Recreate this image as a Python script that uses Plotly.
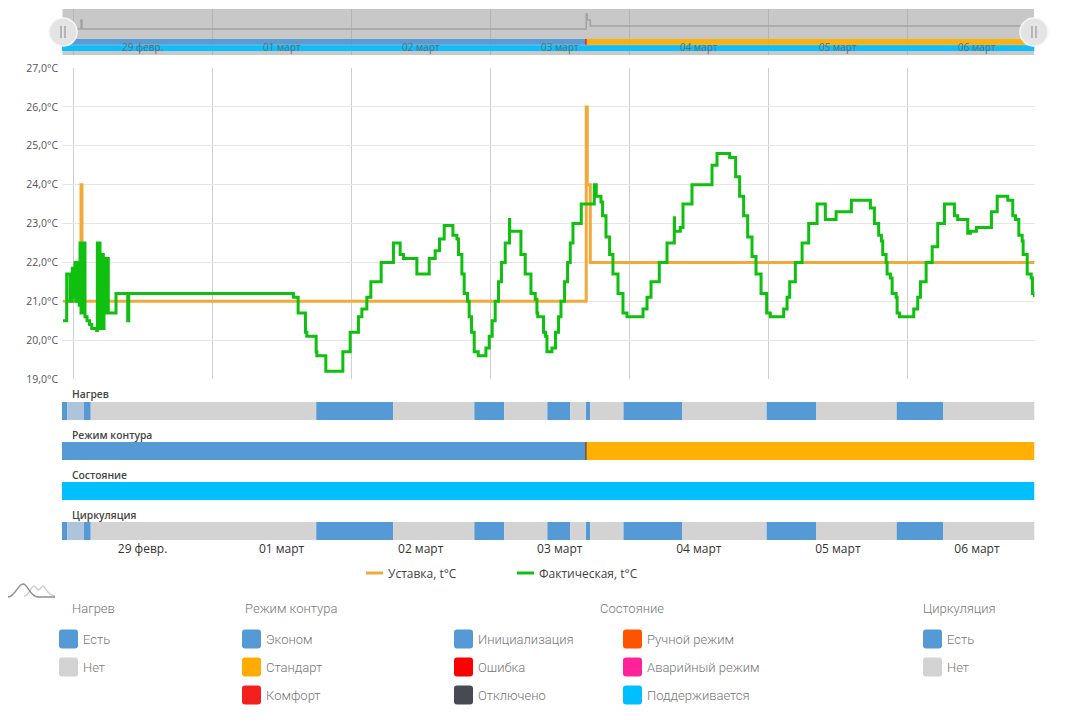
import pandas as pd
import plotly.graph_objects as go

# Timestamps are stored as hours since 29 Feb 00:00
START = pd.Timestamp('2020-02-29')
VIEW_START = -1.90
VIEW_END = 165.93

DAY_HOURS = [0, 24, 48, 72, 96, 120, 144]
DAY_LABELS = ['29 февр.', '01 март', '02 март', '03 март', '04 март', '05 март', '06 март']

setpoint_hours = [-1.73, 1.38, 1.55, 88.57, 88.75, 89.27, 165.93]
setpoint_temp = [21.0, 24.0, 21.0, 26.0, 24.0, 22.0, 22.0]

actual_hours = [
    -1.73, -1.09, -0.52, -0.12, 0.0, 0.35, 0.48, 0.62, 0.76, 0.92, 1.09, 1.21, 1.38, 1.55, 1.73, 1.90, 2.07,
    2.42, 2.85, 3.23, 4.09, 4.20, 4.32, 4.49, 4.66, 4.78, 4.92, 5.06, 5.23, 5.35, 5.53, 5.66, 5.80, 5.94, 6.09,
    7.42, 9.44, 9.62, 38.04, 38.85, 40.11, 40.35, 41.96, 42.08, 43.63, 46.57, 47.83, 49.26, 49.85, 50.71, 51.40,
    53.18, 55.30, 56.46, 57.03, 59.34, 61.47, 62.50, 63.25, 64.06, 65.56, 66.25, 66.53, 67.11, 67.51, 68.08,
    68.37, 68.77, 69.24, 69.93, 71.26, 71.83, 72.34, 72.86, 73.43, 73.95, 74.59, 75.33, 75.36, 77.30, 78.04,
    79.03, 79.77, 80.06, 80.20, 81.20, 81.55, 81.79, 82.65, 83.27, 83.79, 84.21, 84.83, 85.35, 85.81, 86.28,
    87.71, 89.96, 90.30, 91.11, 91.39, 91.98, 92.60, 93.18, 94.05, 94.91, 95.60, 98.37, 99.06, 99.75, 101.18,
    102.51, 103.77, 103.80, 104.80, 105.27, 106.82, 110.28, 111.14, 113.32, 114.35, 115.04, 115.73, 116.43,
    117.18, 117.87, 118.74, 119.71, 120.34, 122.64, 123.23, 123.68, 124.66, 125.82, 126.96, 128.41, 129.84,
    131.69, 134.33, 137.61, 138.30, 139.04, 139.51, 139.74, 140.32, 140.49, 141.06, 141.36, 142.05, 142.22,
    142.62, 145.09, 145.78, 146.25, 147.23, 148.27, 149.23, 150.39, 152.11, 152.68, 154.41, 154.87, 155.91,
    158.50, 159.49, 161.32, 162.18, 162.65, 163.22, 163.80, 163.97, 164.67, 165.36, 165.58, 165.93,
]
actual_temp = [
    20.5, 21.7, 21.0, 21.85, 21.1, 22.0, 21.0, 22.0, 21.0, 22.0, 20.9, 22.5, 20.7, 22.5, 20.7, 22.5, 20.6,
    20.5, 20.4, 20.3, 20.25, 22.5, 20.3, 22.5, 20.3, 22.2, 20.3, 22.2, 20.3, 22.1, 20.7, 22.1, 20.7, 22.1, 20.7,
    21.2, 20.5, 21.2, 21.1, 20.7, 20.2, 20.1, 19.7, 19.6, 19.2, 19.7, 20.2, 20.6, 20.8, 21.1, 21.5,
    22.0, 22.5, 22.2, 22.1, 21.7, 22.1, 22.3, 22.6, 22.95, 22.7, 22.6, 22.2, 21.7, 21.2, 21.0,
    20.6, 20.2, 19.7, 19.6, 19.8, 20.1, 20.5, 21.0, 21.5, 22.0, 22.5, 23.1, 22.8, 22.2, 21.7,
    21.2, 21.05, 20.7, 20.6, 20.2, 20.1, 19.7, 19.8, 20.2, 20.6, 21.0, 21.5, 22.0, 22.5, 23.0,
    23.5, 24.0, 23.7, 23.55, 23.2, 22.65, 22.2, 21.7, 21.2, 20.7, 20.6, 20.8, 21.1, 21.5, 22.0,
    22.5, 23.15, 22.8, 22.9, 23.5, 24.0, 24.5, 24.8, 24.7, 24.2, 23.7, 23.2, 22.65,
    22.15, 21.7, 21.2, 20.7, 20.6, 20.8, 21.1, 21.5, 22.0, 22.5, 23.0, 23.5, 23.1,
    23.3, 23.6, 23.4, 23.0, 22.7, 22.55, 22.2, 22.0, 21.7, 21.6, 21.2, 21.1, 20.7,
    20.6, 20.8, 21.1, 21.5, 22.0, 22.4, 23.0, 23.5, 23.2, 23.1, 22.75, 22.8, 22.9,
    23.3, 23.7, 23.6, 23.2, 23.1, 22.7, 22.55, 22.2, 21.7, 21.6, 21.2, 21.1,
]

# On/off periods, Нагрев and Циркуляция run together
on_starts = [-1.90, 1.90, 41.96, 69.24, 81.84, 88.49, 94.97, 119.66, 142.10]
on_ends = [-1.00, 3.06, 55.25, 74.42, 85.81, 89.27, 105.15, 128.29, 150.20]
off_starts = [3.06, 55.25, 74.42, 85.81, 89.27, 105.15, 128.29, 150.20]
off_ends = [41.96, 69.24, 81.84, 88.49, 94.97, 119.66, 142.10, 165.93]
# very fast switching at the start blurs into one pale span
blur_starts = [-1.00]
blur_ends = [1.90]

strip_names = ['Нагрев', 'Режим контура', 'Состояние', 'Циркуляция']
legend_groups = ['Нагрев', 'Режим контура', 'Состояние', 'Циркуляция']

COL_BLUE = '#5599d5'
COL_GREY = '#d3d3d3'
COL_BLUR = '#adc4da'
COL_ORANGE = '#ffb000'
COL_CYAN = '#00bfff'
COL_SETPOINT = '#f2a93b'
COL_ACTUAL = '#10c010'

PAD = 8
W = 1050
H = 707


def px(x):
    return (x - PAD) / W


def py(y):
    return 1 - (y - PAD) / H


def dates(hours):
    return [START + pd.Timedelta(hours=h) for h in hours]


def span_bar(starts, ends, color, yaxis, xaxis, label, opacity=1):
    return go.Bar(
        x=[(e - s) * 3600000 for s, e in zip(starts, ends)],
        base=dates(starts),
        y=[label] * len(starts),
        orientation='h',
        width=1 if xaxis == 'x' else 0.92,
        marker=dict(color=color, line=dict(width=0)),
        opacity=opacity,
        xaxis=xaxis,
        yaxis=yaxis,
        showlegend=False,
        hoverinfo='skip',
    )


fig = go.Figure()

# Main chart
fig.add_trace(go.Scatter(x=dates(setpoint_hours), y=setpoint_temp, name='Уставка, t°C', mode='lines',
                         line=dict(color=COL_SETPOINT, width=3, shape='hv'), showlegend=False))
fig.add_trace(go.Scatter(x=dates(actual_hours), y=actual_temp, name='Фактическая, t°C', mode='lines',
                         line=dict(color=COL_ACTUAL, width=3, shape='hv'), showlegend=False))

# Timeline strips under the chart
for axis, name in [('y2', strip_names[0]), ('y5', strip_names[3])]:
    fig.add_trace(span_bar(on_starts, on_ends, COL_BLUE, axis, 'x', name))
    fig.add_trace(span_bar(blur_starts, blur_ends, COL_BLUR, axis, 'x', name))
    fig.add_trace(span_bar(off_starts, off_ends, COL_GREY, axis, 'x', name))
fig.add_trace(span_bar([VIEW_START], [88.49], COL_BLUE, 'y3', 'x', strip_names[1]))
fig.add_trace(span_bar([88.49], [88.65], '#7a5a40', 'y3', 'x', strip_names[1]))
fig.add_trace(span_bar([88.65], [VIEW_END], COL_ORANGE, 'y3', 'x', strip_names[1]))
fig.add_trace(span_bar([VIEW_START], [VIEW_END], COL_CYAN, 'y4', 'x', strip_names[2]))

# Overview at the top
fig.add_trace(go.Scatter(x=dates(setpoint_hours), y=setpoint_temp, mode='lines', xaxis='x2', yaxis='y6',
                         line=dict(color='#a2a2a2', width=1.5, shape='hv'), showlegend=False, hoverinfo='skip'))
fig.add_trace(span_bar([VIEW_START], [88.49], COL_BLUE, 'y7', 'x2', strip_names[1], 0.95))
fig.add_trace(span_bar([88.49], [88.65], '#f42020', 'y7', 'x2', strip_names[1], 0.95))
fig.add_trace(span_bar([88.65], [VIEW_END], COL_ORANGE, 'y7', 'x2', strip_names[1], 0.95))
fig.add_trace(span_bar([VIEW_START], [VIEW_END], COL_CYAN, 'y7', 'x2', strip_names[2], 0.95))

x_range = dates([VIEW_START, VIEW_END])
midnights = dates(DAY_HOURS)
noons = dates([h + 12 for h in DAY_HOURS])


def strip_axis(top, bottom):
    return dict(domain=[py(bottom), py(top)], anchor='x', visible=False, type='category', range=[-0.5, 0.5],
                fixedrange=True)


fig.update_layout(
    width=W,
    height=H,
    margin=dict(l=0, r=0, t=0, b=0, autoexpand=False),
    paper_bgcolor='white',
    plot_bgcolor='white',
    separators=', ',
    barmode='overlay',
    hovermode='x',
    font=dict(family='Open Sans', size=12, color='#333333'),
    xaxis=dict(
        domain=[px(62), px(1034.5)], range=x_range, type='date', anchor='y5',
        tickmode='array', tickvals=noons, ticktext=DAY_LABELS, showgrid=False, showline=False, ticks='',
        tickfont=dict(family='Open Sans', size=12, color='#333333'),
        minor=dict(tickmode='array', tickvals=midnights, showgrid=True, gridcolor='#cfcfcf', gridwidth=1, ticks=''),
    ),
    yaxis=dict(
        domain=[py(379), py(68)], range=[19, 27], anchor='x', dtick=1, tickformat='.1f', ticksuffix='°C',
        gridcolor='#e6e6e6', gridwidth=1.3, zeroline=False, showline=False, ticks='', ticklabelstandoff=3,
        tickfont=dict(family='Open Sans', size=10.5, color='#555555'),
    ),
    yaxis2=strip_axis(402, 420),
    yaxis3=strip_axis(442, 460),
    yaxis4=strip_axis(482, 500),
    yaxis5=strip_axis(522, 540),
    xaxis2=dict(
        domain=[px(62), px(1034.5)], range=x_range, type='date', anchor='y7', showticklabels=False, ticks='',
        tickmode='array', tickvals=midnights, showgrid=True, gridcolor='#b4b4b4', gridwidth=1, showline=False,
    ),
    yaxis6=dict(domain=[py(37), py(9)], range=[18.33, 27.67], anchor='x2', visible=False, showgrid=False),
    yaxis7=dict(domain=[py(55), py(37)], range=[-1.1, 1.8], anchor='x2', visible=False, type='category',
                categoryorder='array', categoryarray=[strip_names[2], strip_names[1]], showgrid=False),
)

shapes = [
    # overview background
    dict(type='rect', xref='paper', yref='paper', x0=px(62.5), x1=px(1034), y0=py(55), y1=py(9),
         fillcolor='#c8c8c8', line=dict(width=0), layer='below'),
]

# overview handles
for cx in [63, 1034]:
    shapes.append(dict(type='circle', xref='paper', yref='paper', x0=px(cx - 14), x1=px(cx + 14),
                       y0=py(46), y1=py(18), fillcolor='#e4e4e4', line=dict(color='#f6f6f6', width=1.5)))
    for dx in [-2, 2]:
        shapes.append(dict(type='line', xref='paper', yref='paper', x0=px(cx + dx), x1=px(cx + dx),
                           y0=py(38), y1=py(26), line=dict(color='#8a8a8a', width=1)))

annotations = []


def label(x, y, text, font, xref='paper', xanchor='left'):
    annotations.append(dict(x=x, xref=xref, y=py(y), yref='paper', xanchor=xanchor, yanchor='middle', text=text,
                            showarrow=False, borderpad=0, borderwidth=0, font=font))


# overview day labels
for t, lab in zip(noons, DAY_LABELS):
    label(t, 47, lab, dict(family='Open Sans', size=10, color='#5f6e78'), xref='x2', xanchor='center')

# strip titles
for name, y in zip(strip_names, [394, 435, 475, 515]):
    label(px(72), y, name, dict(family='Open Sans', size=10.3, color='#444444', weight=600))

# line legend
for x0, col, name in [(366, COL_SETPOINT, 'Уставка, t°C'), (517, COL_ACTUAL, 'Фактическая, t°C')]:
    shapes.append(dict(type='line', xref='paper', yref='paper', x0=px(x0), x1=px(x0 + 17), y0=py(573), y1=py(573),
                       line=dict(color=col, width=3)))
    label(px(x0 + 22), 573, name, dict(family='Open Sans', size=12, color='#444444'))


def rounded(x0, y0, x1, y1, r=3):
    return (f'M{px(x0 + r)},{py(y0)} L{px(x1 - r)},{py(y0)} Q{px(x1)},{py(y0)} {px(x1)},{py(y0 + r)} '
            f'L{px(x1)},{py(y1 - r)} Q{px(x1)},{py(y1)} {px(x1 - r)},{py(y1)} '
            f'L{px(x0 + r)},{py(y1)} Q{px(x0)},{py(y1)} {px(x0)},{py(y1 - r)} '
            f'L{px(x0)},{py(y0 + r)} Q{px(x0)},{py(y0)} {px(x0 + r)},{py(y0)} Z')


# state legend at the bottom
LEGEND_FONT = dict(family='Roboto', size=13, color='#777777', weight=300)
for x, lab in [(72, legend_groups[0]), (245, legend_groups[1]), (600, legend_groups[2]), (923, legend_groups[3])]:
    label(px(x), 608.5, lab, LEGEND_FONT)

legend_items = [
    (59, 639, COL_BLUE, 'Есть'), (59, 667, COL_GREY, 'Нет'),
    (242, 639, COL_BLUE, 'Эконом'), (242, 667, '#ffab00', 'Стандарт'), (242, 695, '#f42020', 'Комфорт'),
    (454, 639, COL_BLUE, 'Инициализация'), (454, 667, '#ff0000', 'Ошибка'), (454, 695, '#464a52', 'Отключено'),
    (623, 639, '#ff5500', 'Ручной режим'), (623, 667, '#ff2299', 'Аварийный режим'),
    (623, 695, COL_CYAN, 'Поддерживается'),
    (923, 639, COL_BLUE, 'Есть'), (923, 667, COL_GREY, 'Нет'),
]
for x, y, col, lab in legend_items:
    shapes.append(dict(type='path', xref='paper', yref='paper', path=rounded(x, y - 9.5, x + 19, y + 9.5),
                       fillcolor=col, line=dict(width=0)))
    label(px(x + 24), y, lab, LEGEND_FONT)


def curve(d, col):
    return dict(type='path', xref='paper', yref='paper', path=d, line=dict(color=col, width=1.5))


# small chart icon
shapes.append(curve(f'M{px(24)},{py(596)} C{px(29)},{py(596)} {px(31)},{py(586)} {px(34)},{py(586)} '
                    f'C{px(36)},{py(586)} {px(37)},{py(590)} {px(38.5)},{py(590)} '
                    f'C{px(40)},{py(590)} {px(41)},{py(586)} {px(43)},{py(586)} '
                    f'C{px(45)},{py(586)} {px(48)},{py(596)} {px(55)},{py(596)}', '#cfcfcf'))
shapes.append(curve(f'M{px(8)},{py(597)} C{px(15)},{py(597)} {px(18)},{py(584)} {px(23)},{py(584)} '
                    f'C{px(28)},{py(584)} {px(30)},{py(597)} {px(38)},{py(597)} L{px(55)},{py(597)}', '#8f8f8f'))

fig.update_layout(shapes=shapes, annotations=annotations)

fig.write_html("out.html")
